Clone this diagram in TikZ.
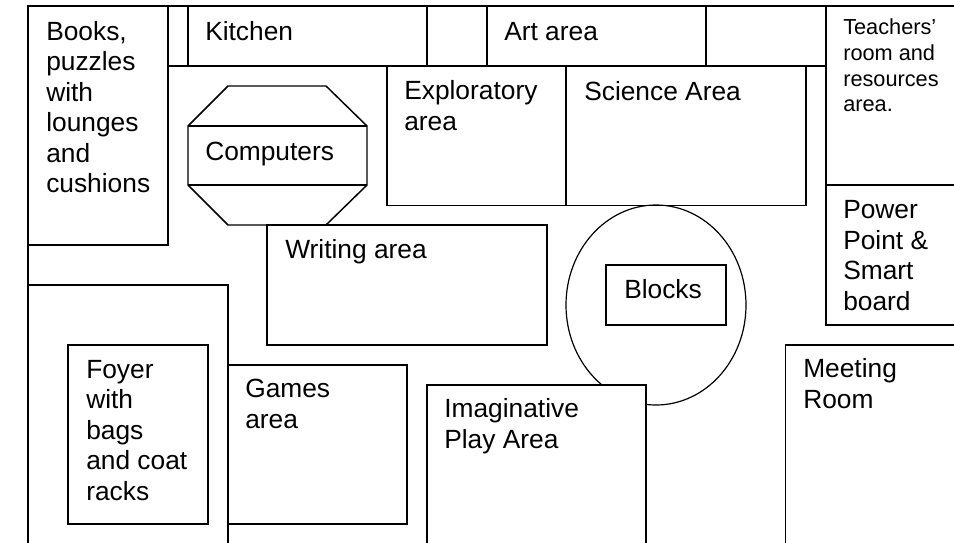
\documentclass[tikz,border=0pt]{standalone}
\usepackage{fontspec}
\setmainfont{Liberation Sans}
\tikzset{
    room/.style={draw=black,line width=1.1pt,line join=miter},
    lbl/.style={anchor=base west,inner sep=0pt,align=left,font=\fontsize{19.75}{22.8}\selectfont},
    lblsmall/.style={lbl,font=\fontsize{16.3}{19.2}\selectfont}
}
\begin{document}
\begin{tikzpicture}[x=0.75pt,y=-0.75pt]
    \useasboundingbox (0,0) rectangle (954,543);

    \draw[room] (954,6) -- (28,6) -- (28,543);
    \draw[room] (28,245) -- (168,245) -- (168,6);
    \draw[room] (168,66) -- (826,66);
    \draw[room] (188,6) -- (188,66);
    \draw[room] (427,6) -- (427,66);
    \draw[room] (487,6) -- (487,66);
    \draw[room] (706,6) -- (706,66);
    \draw[room] (826,6) -- (826,325) -- (954,325);
    \draw[room] (826,185) -- (954,185);

    \draw[room] (387,66) -- (387,205.5) -- (806,205.5) -- (806,66);
    \draw[room] (566,66) -- (566,205.5);

    \draw[room] (228,86) -- (326,86) -- (367,126) -- (367,185) -- (326,225)
        -- (228,225) -- (188,185) -- (188,126) -- cycle;
    \draw[room] (188,126) -- (367,126);
    \draw[room] (188,185) -- (367,185);

    \draw[room] (267,225) rectangle (547,345);

    \draw[room,line width=0.9pt] (656,305) ellipse (90 and 100);
    \draw[room] (606,265) rectangle (726,325);

    \draw[room] (28,285) -- (228,285) -- (228,543);
    \draw[room] (68,345) rectangle (208,524);
    \draw[room] (228,365) -- (407,365) -- (407,524) -- (228,524);
    \draw[room,fill=white] (427,543) -- (427,385) -- (646,385) -- (646,543);
    \draw[room] (785.5,543) -- (785.5,345) -- (954,345);

    \node[lbl] (Books) at (46,192.5) {Books,\\puzzles\\with\\lounges\\and\\cushions};
    \node[lbl] (Kitchen) at (205,40) {Kitchen};
    \node[lbl] (Art) at (504,40) {Art area};
    \node[lbl] (Explor) at (404,130) {Exploratory\\area};
    \node[lbl] (Science) at (584,100) {Science Area};
    \node[lblsmall] (Teachers) at (843,111.7) {Teachers’\\room and\\resources\\area.};
    \node[lbl] (Computers) at (205,160) {Computers};
    \node[lbl] (Writing) at (285,258) {Writing area};
    \node[lbl] (Power) at (843,310) {Power\\Point \&\\Smart\\board};
    \node[lbl] (Blocks) at (624,298) {Blocks};
    \node[lbl] (Foyer) at (86,500) {Foyer\\with\\bags\\and coat\\racks};
    \node[lbl] (Games) at (245,428) {Games\\area};
    \node[lbl] (Imag) at (444,448) {Imaginative\\Play Area};
    \node[lbl] (Meeting) at (803,408) {Meeting\\Room};
\end{tikzpicture}
\end{document}
